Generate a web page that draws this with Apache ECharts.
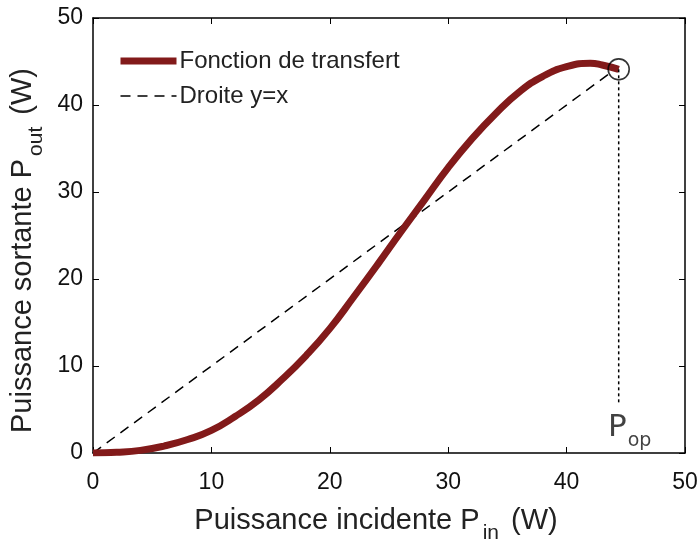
<!DOCTYPE html>
<html>
<head>
<meta charset="utf-8">
<script src="https://cdn.jsdelivr.net/npm/echarts@6/dist/echarts.min.js"></script>
<style>
  html, body { margin: 0; padding: 0; background: #fff; }
  #chart { width: 700px; height: 544px; }
</style>
</head>
<body>
<div id="chart"></div>
<script>
// courbe
const pIn = [0, 2, 4, 6, 8, 10, 12, 14, 16, 18, 20, 22, 24, 26, 28, 30, 32, 34, 36, 38, 40, 42, 43, 44.4];
const pOut = [0, 0.08, 0.3, 0.8, 1.55, 2.6, 4.2, 6.1, 8.5, 11.2, 14.3, 17.9, 21.6, 25.4, 29.1, 32.8, 36.1, 39.0, 41.5, 43.3, 44.4, 44.8, 44.6, 44.1];
const droite = [[0, 0], [44.4, 44.4]];
const pOp = [44.4, 44.1];
const pOpBas = 5.5; // bas du pointillé vertical
const ticks = [0, 10, 20, 30, 40, 50];

const font = 'Liberation Sans, Arial, Helvetica, sans-serif';
const red = '#821a1a';

var chart = echarts.init(document.getElementById('chart'));

const boxAxis = (pos) => ({
  type: 'value',
  position: pos,
  min: ticks[0],
  max: ticks[ticks.length - 1],
  interval: 10,
  axisLine: { show: true, onZero: false, lineStyle: { color: '#000', width: 1.5 } },
  axisTick: { show: true, inside: true, length: 6, lineStyle: { color: '#000', width: 1 } },
  axisLabel: { show: false },
  splitLine: { show: false },
});

const titleRich = {
  a: { fontFamily: font, fontSize: 29, color: '#222', lineHeight: 38, verticalAlign: 'top' },
  s: { fontFamily: font, fontSize: 21, color: '#222', lineHeight: 38, verticalAlign: 'bottom', padding: [17, 4, 0, 3] },
};

const option = {
  backgroundColor: '#fff',
  animation: false,
  grid: { left: 93, right: 15, top: 18, bottom: 91, outerBoundsMode: 'none' },
  legend: {
    orient: 'vertical',
    left: 112,
    top: 44,
    itemWidth: 56,
    itemHeight: 14,
    itemGap: 11,
    textStyle: { fontFamily: font, fontSize: 24, color: '#222', padding: [0, 0, 0, -2] },
    data: [
      { name: 'Fonction de transfert', itemStyle: { opacity: 0 }, lineStyle: { width: 7, color: red } },
      { name: 'Droite y=x', itemStyle: { opacity: 0 }, lineStyle: { width: 1.5, type: [10, 7], color: '#000' } },
    ],
  },
  xAxis: [
    {
      type: 'value',
      min: ticks[0],
      max: ticks[ticks.length - 1],
      interval: 10,
      name: '{a|Puissance incidente P}{s|in}{a| (W)}',
      nameLocation: 'middle',
      nameGap: 53,
      nameTextStyle: { rich: titleRich, padding: [0, 26, 0, 0] },
      axisLine: { show: true, onZero: false, lineStyle: { color: '#000', width: 1.5 } },
      axisTick: { show: true, inside: true, length: 6, lineStyle: { color: '#000', width: 1 } },
      axisLabel: { fontFamily: font, fontSize: 23, color: '#111', margin: 18 },
      splitLine: { show: false },
    },
    boxAxis('top'),
  ],
  yAxis: [
    {
      type: 'value',
      min: ticks[0],
      max: ticks[ticks.length - 1],
      interval: 10,
      name: '{a|Puissance sortante P}{s|out}{a| (W)}',
      nameLocation: 'middle',
      nameGap: 46,
      nameTextStyle: { rich: titleRich, padding: [0, 30, 0, 0] },
      axisLine: { show: true, onZero: false, lineStyle: { color: '#000', width: 1.5 } },
      axisTick: { show: true, inside: true, length: 6, lineStyle: { color: '#000', width: 1 } },
      axisLabel: { fontFamily: font, fontSize: 23, color: '#111', margin: 10 },
      splitLine: { show: false },
    },
    boxAxis('right'),
  ],
  series: [
    {
      name: 'Droite y=x',
      type: 'line',
      symbol: 'none',
      data: droite,
      lineStyle: { color: '#000', width: 1.5, type: [10, 7] },
      itemStyle: { color: '#000' },
      z: 2,
    },
    {
      name: 'Fonction de transfert',
      type: 'line',
      symbol: 'none',
      smooth: true,
      data: pIn.map((x, i) => [x, pOut[i]]),
      lineStyle: { color: red, width: 7 },
      itemStyle: { color: red },
      z: 3,
    },
    {
      name: 'pop',
      type: 'line',
      symbol: 'none',
      data: [pOp, [pOp[0], pOpBas]],
      lineStyle: { color: '#000', width: 1.5, type: [3, 3] },
      z: 4,
    },
    {
      name: 'popLabel',
      type: 'scatter',
      symbolSize: 1,
      data: [[pOp[0], pOpBas]],
      itemStyle: { color: 'rgba(0,0,0,0)' },
      label: {
        show: true,
        position: 'bottom',
        distance: 7,
        offset: [11, 0],
        formatter: '{p|P}{s|op}',
        rich: {
          p: { fontFamily: 'DejaVu Sans, sans-serif', fontSize: 31, color: '#111', lineHeight: 38, verticalAlign: 'top' },
          s: { fontFamily: 'DejaVu Sans, sans-serif', fontSize: 19, color: '#111', lineHeight: 38, verticalAlign: 'bottom', padding: [20, 0, 0, 1] },
        },
      },
      z: 4,
    },
    {
      name: 'cercle',
      type: 'scatter',
      symbol: 'circle',
      symbolSize: 21,
      data: [pOp],
      itemStyle: { color: 'rgba(0,0,0,0)', borderColor: '#000', borderWidth: 1.6 },
      z: 5,
    },
  ],
};
chart.setOption(option);
</script>
</body>
</html>
